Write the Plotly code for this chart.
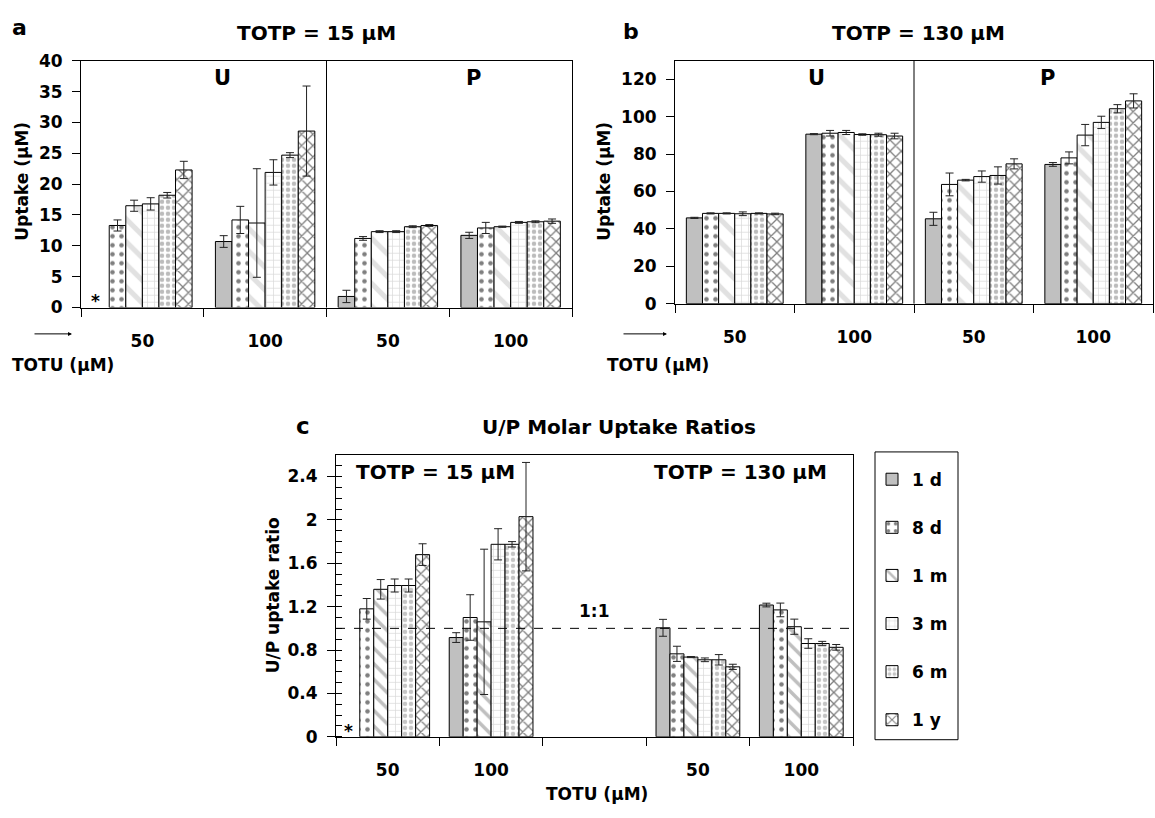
import plotly.graph_objects as go

# ---- data -------------------------------------------------------------
series = ["1 d", "8 d", "1 m", "3 m", "6 m", "1 y"]

# panel a: TOTP = 15 µM, uptake of U and P at TOTU = 50 / 100 µM
a_cats = ["U 50", "U 100", "P 50", "P 100"]
a_labels = ["50", "100", "50", "100"]
a_vals = {
    "1 d": [None, 10.7, 1.8, 11.7],
    "8 d": [13.3, 14.2, 11.2, 12.9],
    "1 m": [16.5, 13.7, 12.3, 13.1],
    "3 m": [16.8, 21.9, 12.3, 13.8],
    "6 m": [18.2, 24.7, 13.1, 13.9],
    "1 y": [22.3, 28.6, 13.3, 14.0],
}
a_err = {
    "1 d": [None, 0.95, 1.0, 0.5],
    "8 d": [0.9, 2.2, 0.3, 0.9],
    "1 m": [0.9, 8.8, 0.15, 0.1],
    "3 m": [1.0, 2.05, 0.15, 0.15],
    "6 m": [0.45, 0.4, 0.15, 0.15],
    "1 y": [1.4, 7.3, 0.15, 0.35],
}

# panel b: TOTP = 130 µM
b_cats = ["U 50", "U 100", "P 50", "P 100"]
b_labels = ["50", "100", "50", "100"]
b_vals = {
    "1 d": [45.9, 90.7, 45.4, 74.5],
    "8 d": [48.3, 91.2, 63.8, 78.0],
    "1 m": [48.3, 91.6, 66.1, 90.2],
    "3 m": [48.1, 90.5, 68.0, 97.0],
    "6 m": [48.3, 90.4, 68.6, 104.3],
    "1 y": [48.0, 89.7, 74.8, 108.5],
}
b_err = {
    "1 d": [0.3, 0.3, 3.5, 1.0],
    "8 d": [0.3, 1.5, 6.1, 3.2],
    "1 m": [0.3, 1.1, 0.4, 5.7],
    "3 m": [1.0, 0.4, 3.0, 3.3],
    "6 m": [0.3, 0.8, 4.6, 2.2],
    "1 y": [0.4, 1.5, 2.7, 3.8],
}

# panel c: U/P molar uptake ratios (15 µM group, spacer, 130 µM group)
c_cats = ["15-50", "15-100", "gap", "130-50", "130-100"]
c_labels = ["50", "100", "", "50", "100"]
c_vals = {
    "1 d": [None, 0.915, None, 1.005, 1.215],
    "8 d": [1.18, 1.10, None, 0.765, 1.17],
    "1 m": [1.36, 1.06, None, 0.735, 1.015],
    "3 m": [1.395, 1.775, None, 0.71, 0.86],
    "6 m": [1.395, 1.775, None, 0.71, 0.86],
    "1 y": [1.68, 2.03, None, 0.645, 0.825],
}
c_err = {
    "1 d": [None, 0.045, None, 0.078, 0.017],
    "8 d": [0.095, 0.21, None, 0.07, 0.063],
    "1 m": [0.09, 0.67, None, 0.005, 0.07],
    "3 m": [0.06, 0.144, None, 0.017, 0.044],
    "6 m": [0.06, 0.025, None, 0.048, 0.02],
    "1 y": [0.1, 0.5, None, 0.024, 0.026],
}

# ---- styling ----------------------------------------------------------
W, H = 1155, 818
FONT = "DejaVu Sans"


def px(x):
    return x / W


def py(y):
    return 1 - y / H


def fill(name, panel):
    """Marker fill (colour + hatch pattern) for a series in a panel."""
    stripe = "#c4c4c4" if panel in ("a", "b") else "#808080"
    check = "#7a7a7a" if panel in ("a", "b") else "#8c8c8c"
    if name == "1 d":
        return dict(color="#c0c0c0")
    pats = {
        "8 d": dict(shape=".", fgcolor="black", size=9, solidity=0.2),
        "1 m": dict(shape="\\", fgcolor=stripe, size=16 if panel != "c" else 11,
                    solidity=0.32),
        "3 m": dict(shape="+", fgcolor="#b4b4b4", size=7, solidity=0.2),
        "6 m": dict(shape=".", fgcolor=check, size=6, solidity=0.45),
        "1 y": dict(shape="x", fgcolor="black", size=8, solidity=0.3),
    }
    p = pats[name]
    p.update(bgcolor="white", fillmode="overlay")
    return dict(color="white", pattern=p)


fig = go.Figure()

panels = [
    ("a", "x", "y", a_cats, a_vals, a_err),
    ("b", "x2", "y2", b_cats, b_vals, b_err),
    ("c", "x3", "y3", c_cats, c_vals, c_err),
]
for panel, xa, ya, cats, vals, errs in panels:
    for name in series:
        fig.add_trace(go.Bar(
            x=cats, y=vals[name], name=name, xaxis=xa, yaxis=ya,
            marker=dict(line=dict(color="black", width=1), **fill(name, panel)),
            error_y=dict(type="data", array=errs[name], visible=True,
                         color="#222222", thickness=1, width=4),
            showlegend=(panel == "c"), legendgroup=name,
        ))

common_x = dict(type="category", tickmode="array", tickson="boundaries",
                ticks="outside", ticklen=8, tickcolor="black",
                showline=True, linecolor="black", linewidth=1, mirror=True,
                showgrid=False, tickfont=dict(size=17),
                ticklabelstandoff=18)
common_y = dict(ticks="outside", ticklen=8, tickcolor="black",
                showline=True, linecolor="black", linewidth=1, mirror=True,
                showgrid=False, zeroline=False, tickfont=dict(size=17),
                ticklabelstandoff=6)

fig.update_layout(
    width=W, height=H, margin=dict(l=0, r=0, t=0, b=0),
    paper_bgcolor="white", plot_bgcolor="white",
    font=dict(family=FONT, size=17, color="black", weight="bold"),
    barmode="group", bargap=0.19, bargroupgap=0,
    xaxis=dict(domain=[px(81), px(572)], anchor="y", categoryarray=a_cats,
               tickvals=a_cats, ticktext=a_labels, **common_x),
    yaxis=dict(domain=[py(305), py(52)], anchor="x", range=[0, 40], dtick=5,
               **common_y),
    xaxis2=dict(domain=[px(675), px(1153)], anchor="y2", categoryarray=b_cats,
                tickvals=b_cats, ticktext=b_labels, **common_x),
    yaxis2=dict(domain=[py(301), py(52)], anchor="x2", range=[0, 130], dtick=20,
                **common_y),
    xaxis3=dict(domain=[px(336), px(853)], anchor="y3", categoryarray=c_cats,
                tickvals=c_cats, ticktext=c_labels, **common_x),
    yaxis3=dict(domain=[py(745), py(456)], anchor="x3", range=[0, 2.6], dtick=0.4,
                minor=dict(dtick=0.1, ticks="inside", ticklen=6, tickcolor="black"),
                **common_y),
    legend=dict(x=px(872), y=py(463), xanchor="left", yanchor="top",
                bgcolor="rgba(0,0,0,0)", tracegroupgap=23,
                font=dict(size=17), traceorder="grouped"),
)

# U / P dividers and the 1:1 reference line
fig.add_shape(type="line", xref="x domain", yref="y domain", x0=0.5, x1=0.5, y0=0, y1=1,
              line=dict(color="black", width=1))
fig.add_shape(type="line", xref="x2 domain", yref="y2 domain", x0=0.5, x1=0.5, y0=0, y1=1,
              line=dict(color="black", width=1))
fig.add_shape(type="line", xref="x3 domain", yref="y3", x0=0, x1=1, y0=1, y1=1,
              line=dict(color="black", width=1, dash="dash"))
# legend frame
fig.add_shape(type="rect", xref="paper", yref="paper", x0=px(875), x1=px(958),
              y0=py(748), y1=py(453), line=dict(color="black", width=1))


def label(text, x, y, size=17, angle=0):
    fig.add_annotation(text=text, x=px(x), y=py(y), xref="paper", yref="paper",
                       showarrow=False, xanchor="center", yanchor="middle",
                       textangle=angle, font=dict(size=size))


label("a", 19, 18, 22)
label("b", 631, 22, 22)
label("c", 303, 426, 23)
label("TOTP = 15 µM", 316, 24, 20)
label("TOTP = 130 µM", 918, 24, 20)
label("U/P Molar Uptake Ratios", 619, 427, 20)
label("U", 222, 70, 21)
label("P", 473, 70, 21)
label("U", 816, 70, 21)
label("P", 1047, 70, 21)
label("Uptake (µM)", 22, 176, 17, -90)
label("Uptake (µM)", 604, 176, 17, -90)
label("U/P uptake ratio", 273, 600, 17, -90)
label("TOTU (µM)", 63, 364)
label("TOTU (µM)", 658, 364)
label("TOTU (µM)", 597, 804)
label("TOTP = 15 µM", 435, 474, 20)
label("TOTP = 130 µM", 740, 474, 20)
label("1:1", 594, 616)
label("*", 95, 298)
label("*", 348, 739)

# TOTU direction arrows
for x0, x1 in [(33, 72), (622, 667)]:
    fig.add_annotation(x=px(x1), y=py(332), xref="paper", yref="paper",
                       ax=x0 - x1, ay=0, text="", showarrow=True,
                       arrowhead=2, arrowsize=0.8, arrowwidth=1, arrowcolor="black")

fig.write_html("out.html")
